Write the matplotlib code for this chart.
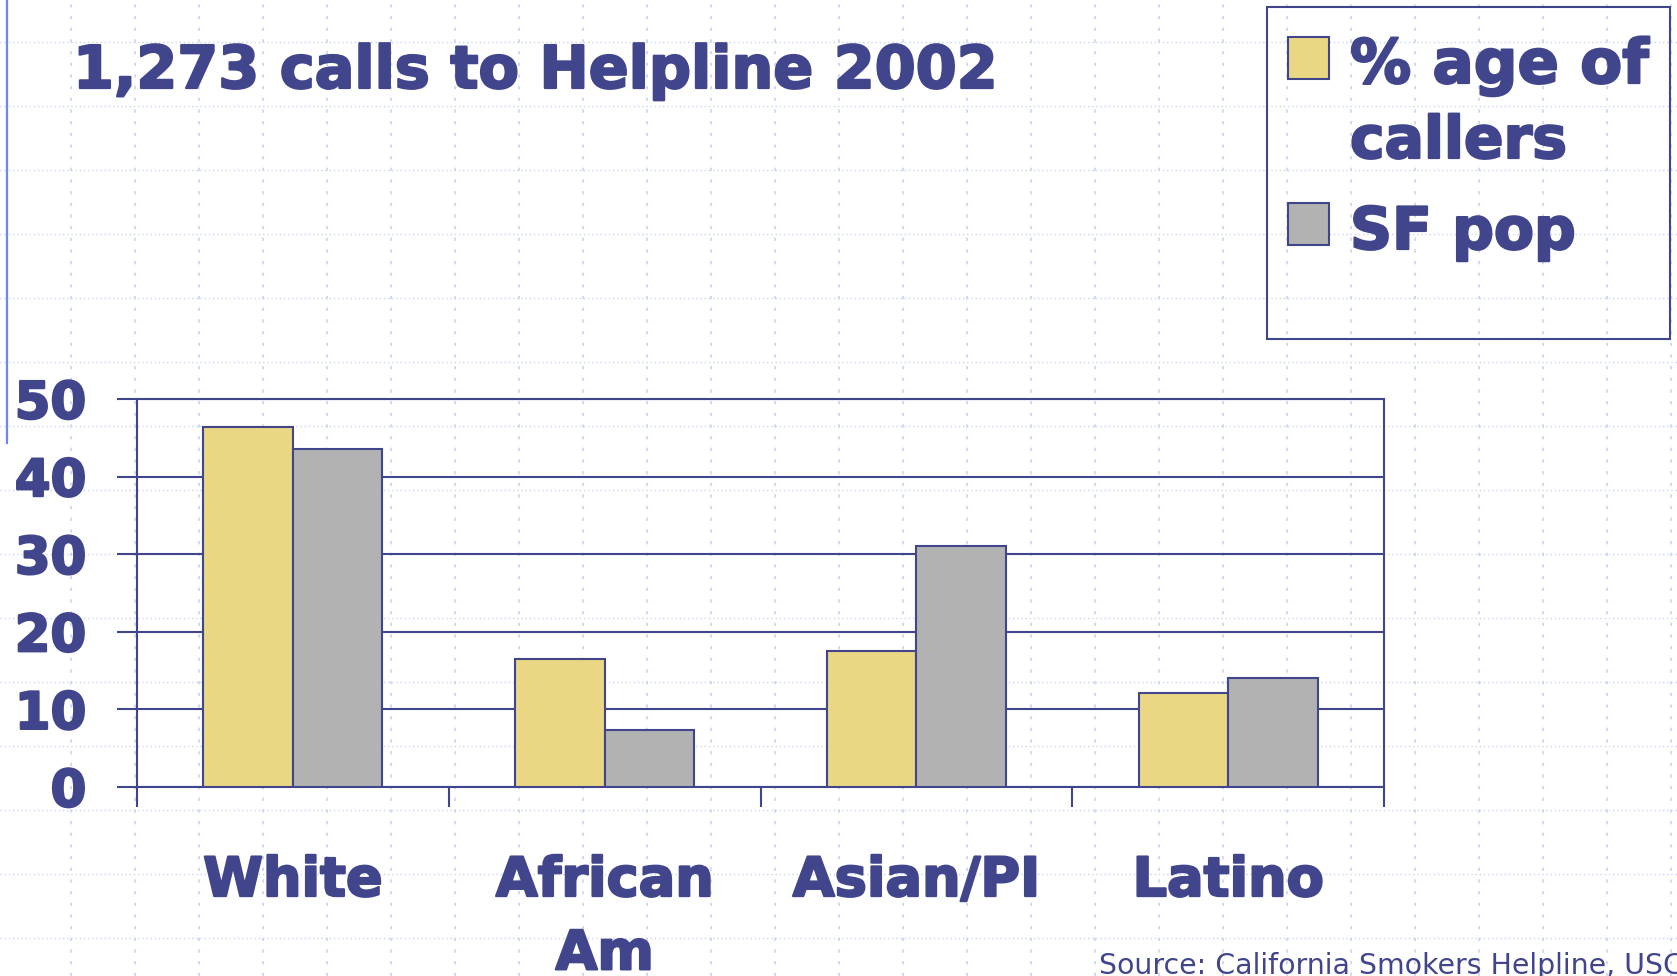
"""
Helpline callers vs SF population, bar chart
"""

import numpy as np
import matplotlib
matplotlib.use('Agg')
import matplotlib.pyplot as plt
import matplotlib.patheffects as pe
from matplotlib.patches import Rectangle

# 数据
categories = ['White', 'African\nAm', 'Asian/PI', 'Latino']
series_names = ['% age of\ncallers', 'SF pop']
pct_callers = [46.4, 16.5, 17.5, 12.1]
sf_pop = [43.6, 7.4, 31.1, 14.1]
y_ticks = [0, 10, 20, 30, 40, 50]

title = '1,273 calls to Helpline 2002'
source = 'Source: California Smokers Helpline, USC'

NAVY = '#41458b'
YELLOW = '#ead783'
GRAY = '#b2b2b2'
DOTS = '#c9d3f3'

W, H = 1677, 976
fig = plt.figure(figsize=(W / 100, H / 100), dpi=100)
fig.patch.set_facecolor('white')
plt.rcParams['font.family'] = ['DejaVu Sans']

# 加粗描边，接近原图 Tahoma Bold 的笔画粗细
heavy = [pe.withStroke(linewidth=1.6, foreground=NAVY)]


def fx(px):
    return px / W


def fy(py):
    return 1 - py / H


# 背景点线网格（幻灯片模板）
bg = fig.add_axes([0, 0, 1, 1], zorder=-5)
bg.set_xlim(0, W)
bg.set_ylim(H, 0)
bg.axis('off')
for y in np.arange(41.7, H, 64):
    bg.axhline(y, color=DOTS, lw=1.0, ls=(0, (1, 2)))
for x in np.arange(71, W, 64):
    bg.axvline(x, color=DOTS, lw=1.2, ls=(0, (2, 5)))
bg.plot([7.5, 7.5], [0, 443], color='#7088ee', lw=1.6)

# 主图
ax = fig.add_axes([fx(137), fy(787), fx(1384 - 137), (787 - 399) / H], zorder=1)
ax.patch.set_alpha(0)

x = np.arange(len(categories)) + 0.5
bw = 0.287
ax.bar(x - bw / 2, pct_callers, bw, color=YELLOW, edgecolor=NAVY, lw=1.5, zorder=3)
ax.bar(x + bw / 2, sf_pop, bw, color=GRAY, edgecolor=NAVY, lw=1.5, zorder=3)

ax.set_xlim(0, len(categories))
ax.set_ylim(0, 50)
ax.set_yticks(y_ticks)
ax.set_yticklabels([str(v) for v in y_ticks], fontsize=37, fontweight='bold', color=NAVY)
ax.yaxis.grid(True, color=NAVY, lw=1.5)
ax.set_axisbelow(True)

ax.set_xticks(np.arange(len(categories) + 1))
ax.set_xticklabels([])
ax.set_xticks(x, minor=True)
ax.set_xticklabels(categories, minor=True, fontsize=39, fontweight='bold',
                   color=NAVY, linespacing=1.52)
ax.tick_params(axis='x', which='major', length=14.4, width=1.5, color=NAVY, direction='out')
ax.tick_params(axis='x', which='minor', length=0, pad=49)
ax.tick_params(axis='y', length=14.4, width=1.5, color=NAVY, direction='out', pad=22)

for lab in ax.get_yticklabels() + ax.get_xticklabels(minor=True):
    lab.set_path_effects(heavy)

for s in ax.spines.values():
    s.set_color(NAVY)
    s.set_linewidth(1.5)

# 标题
fig.text(fx(73), fy(88), title, fontsize=42.4, fontweight='bold', color=NAVY,
         ha='left', va='baseline', path_effects=heavy)

# 图例（手动绘制）
fig.add_artist(Rectangle((fx(1267), fy(339)), fx(1670 - 1267), (339 - 7.5) / H,
                         transform=fig.transFigure, fill=False, edgecolor=NAVY, lw=1.5))
for color, name, top in zip([YELLOW, GRAY], series_names, [37, 203]):
    fig.add_artist(Rectangle((fx(1288), fy(top + 42)), fx(41), 42 / H,
                             transform=fig.transFigure, facecolor=color,
                             edgecolor=NAVY, lw=1.5))
    for i, line in enumerate(name.split('\n')):
        fs = 44 if i == 0 and top == 37 else 42
        fig.text(fx(1350), fy(top + 46 + i * 75), line, fontsize=fs,
                 fontweight='bold', color=NAVY, ha='left', va='baseline',
                 path_effects=heavy)

# 来源
fig.text(fx(1099), fy(974), source, fontsize=20.4, color=NAVY, ha='left', va='baseline')

fig.savefig('out.png', dpi=100)
